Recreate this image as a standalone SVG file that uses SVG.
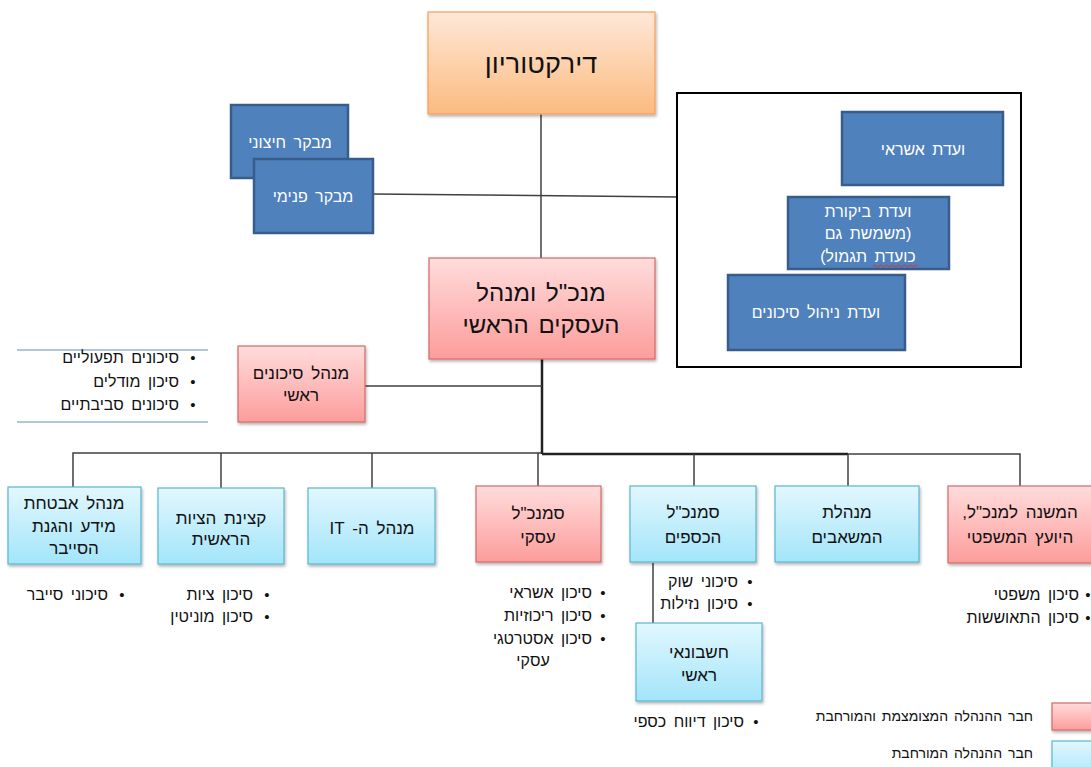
<svg xmlns="http://www.w3.org/2000/svg" width="1091" height="767" viewBox="0 0 1091 767">
<defs>
<linearGradient id="gPink" x1="0" y1="0" x2="0" y2="1"><stop offset="0" stop-color="#ffdcdc"/><stop offset="1" stop-color="#fc9d9b"/></linearGradient>
<linearGradient id="gBlue" x1="0" y1="0" x2="0" y2="1"><stop offset="0" stop-color="#e2f7fe"/><stop offset="1" stop-color="#a3e5fa"/></linearGradient>
<linearGradient id="gOrange" x1="0" y1="0" x2="0" y2="1"><stop offset="0" stop-color="#fee8d8"/><stop offset="1" stop-color="#fbbb80"/></linearGradient>
<filter id="sh" x="-10%" y="-10%" width="125%" height="130%"><feDropShadow dx="1" dy="2" stdDeviation="1.5" flood-color="#000" flood-opacity="0.3"/></filter>
</defs>
<style>
text{font-family:"Liberation Sans","DejaVu Sans",sans-serif;direction:rtl;word-spacing:3px;}
.pink{fill:url(#gPink);stroke:#d26a68;stroke-width:1.2;filter:url(#sh);}
.lblue{fill:url(#gBlue);stroke:#5ab6d0;stroke-width:1.2;filter:url(#sh);}
.orange{fill:url(#gOrange);stroke:#f5a05a;stroke-width:1.2;filter:url(#sh);}
.dblue{fill:#4f81bd;stroke:#385d8a;stroke-width:2.5;}
.t{font-size:17px;fill:#111;text-anchor:middle;}
.tw{font-size:16px;fill:#fff;text-anchor:middle;}
.b{font-size:16px;fill:#111;text-anchor:start;}
.dot{font-size:15px;fill:#111;text-anchor:middle;}
.c{stroke:#404040;stroke-width:1.5;fill:none;}
.ck{stroke:#222;stroke-width:2.5;fill:none;}
</style>
<g id="connectors">
<line class="c" x1="541" y1="114" x2="541" y2="258"/>
<line class="c" x1="373" y1="194" x2="678" y2="197"/>
<line class="ck" x1="542" y1="359" x2="542" y2="454"/>
<line class="c" x1="365" y1="386" x2="542" y2="386"/>
<polyline class="c" points="73,487 73,453 541,453"/>
<line class="c" x1="221" y1="453" x2="221" y2="488"/>
<line class="c" x1="372" y1="453" x2="372" y2="488"/>
<line class="c" x1="538" y1="453" x2="538" y2="486"/>
<line class="ck" x1="542" y1="454" x2="848" y2="454"/>
<line class="c" x1="694" y1="454" x2="694" y2="486"/>
<line class="c" x1="848" y1="454" x2="848" y2="486"/>
<polyline class="c" points="848,454 1020,454 1020,486" stroke="#555"/>
<line class="c" x1="653" y1="563" x2="653" y2="623"/>
</g>
<g id="board"><rect class="orange" x="428" y="12" width="227" height="102"/><text x="541" y="73" class="t" style="font-size:27px">דירקטוריון</text></g>
<g id="committees"><rect x="677" y="93" width="344" height="274" fill="none" stroke="#000" stroke-width="2"/></g>
<g id="ext-auditor"><rect class="dblue" x="231" y="105" width="117" height="73"/><text x="290" y="148" class="tw">מבקר חיצוני</text></g>
<g id="int-auditor"><rect class="dblue" x="254" y="159" width="119" height="74"/><text x="313" y="202" class="tw">מבקר פנימי</text></g>
<g id="credit-comm"><rect class="dblue" x="842" y="112" width="161" height="73"/><text x="923" y="155" class="tw">ועדת אשראי</text></g>
<g id="audit-comm"><rect class="dblue" x="788" y="197" width="161" height="72"/>
<text x="868" y="217" class="tw">ועדת ביקורת</text><text x="868" y="239" class="tw">(משמשת גם</text><text x="868" y="262" class="tw">כועדת תגמול)</text>
<path d="M873,266 q1.5,-2 3,0 t3,0 t3,0 t3,0 t3,0 t3,0 t3,0 t3,0 t3,0 t3,0 t3,0 t3,0 t3,0 t3,0 t3,0" stroke="#e03030" stroke-width="1" fill="none"/></g>
<g id="risk-comm"><rect class="dblue" x="728" y="275" width="177" height="75"/><text x="816" y="318" class="tw">ועדת ניהול סיכונים</text></g>
<g id="ceo"><rect class="pink" x="429" y="258" width="226" height="101"/><text x="541" y="301" class="t" style="font-size:24px">מנכ"ל ומנהל</text><text x="541" y="333" class="t" style="font-size:24px">העסקים הראשי</text></g>
<g id="cro"><rect class="pink" x="238" y="346" width="127" height="76"/><text x="301" y="379" class="t">מנהל סיכונים</text><text x="301" y="401" class="t">ראשי</text></g>
<g id="cro-list">
<line x1="17" y1="350" x2="208" y2="350" stroke="#5b8fc9" stroke-width="1"/>
<line x1="17" y1="422" x2="208" y2="422" stroke="#5b8fc9" stroke-width="1"/>
<text x="193" y="363" class="dot">•</text><text x="179" y="363" class="b">סיכונים תפעוליים</text>
<text x="193" y="387" class="dot">•</text><text x="179" y="387" class="b">סיכון מודלים</text>
<text x="193" y="410" class="dot">•</text><text x="179" y="410" class="b">סיכונים סביבתיים</text>
</g>
<g id="ciso"><rect class="lblue" x="8" y="487" width="133" height="77"/><text x="74" y="509" class="t">מנהל אבטחת</text><text x="74" y="532" class="t">מידע והגנת</text><text x="74" y="554" class="t">הסייבר</text>
<text x="122" y="600" class="dot">•</text><text x="108" y="600" class="b">סיכוני סייבר</text></g>
<g id="compliance"><rect class="lblue" x="158" y="488" width="126" height="76"/><text x="221" y="524" class="t">קצינת הציות</text><text x="221" y="545" class="t">הראשית</text>
<text x="267" y="600" class="dot">•</text><text x="253" y="600" class="b">סיכון ציות</text>
<text x="267" y="622" class="dot">•</text><text x="253" y="622" class="b">סיכון מוניטין</text></g>
<g id="it"><rect class="lblue" x="308" y="488" width="127" height="76"/><text x="372" y="534" class="t">מנהל ה- IT</text></g>
<g id="biz-vp"><rect class="pink" x="476" y="486" width="125" height="76"/><text x="538" y="519" class="t">סמנכ"ל</text><text x="538" y="543" class="t">עסקי</text>
<text x="603" y="598" class="dot">•</text><text x="592" y="598" class="b">סיכון אשראי</text>
<text x="603" y="621" class="dot">•</text><text x="592" y="621" class="b">סיכון ריכוזיות</text>
<text x="603" y="644" class="dot">•</text><text x="592" y="644" class="b">סיכון אסטרטגי</text>
<text x="533" y="666" class="t" style="font-size:16px">עסקי</text></g>
<g id="cfo"><rect class="lblue" x="630" y="486" width="126" height="76"/><text x="693" y="518" class="t">סמנכ"ל</text><text x="693" y="543" class="t">הכספים</text>
<text x="750" y="587" class="dot">•</text><text x="738" y="587" class="b">סיכוני שוק</text>
<text x="750" y="609" class="dot">•</text><text x="738" y="609" class="b">סיכון נזילות</text></g>
<g id="hr"><rect class="lblue" x="775" y="486" width="144" height="76"/><text x="847" y="518" class="t">מנהלת</text><text x="847" y="543" class="t">המשאבים</text></g>
<g id="legal"><rect class="pink" x="948" y="486" width="150" height="77"/><text x="1020" y="518" class="t">המשנה למנכ"ל,</text><text x="1020" y="543" class="t">היועץ המשפטי</text>
<text x="1088" y="600" class="dot">•</text><text x="1079" y="600" class="b">סיכון משפטי</text>
<text x="1088" y="623" class="dot">•</text><text x="1079" y="623" class="b">סיכון התאוששות</text></g>
<g id="chief-accountant"><rect class="lblue" x="636" y="623" width="126" height="78"/><text x="699" y="658" class="t">חשבונאי</text><text x="699" y="681" class="t">ראשי</text>
<text x="756" y="727" class="dot">•</text><text x="744" y="727" class="b">סיכון דיווח כספי</text></g>
<g id="legend">
<rect class="pink" x="1052" y="703" width="50" height="27"/><text x="1033" y="721" class="b" style="font-size:14px;word-spacing:2px">חבר ההנהלה המצומצמת והמורחבת</text>
<rect class="lblue" x="1052" y="741" width="50" height="40"/><text x="1033" y="758" class="b" style="font-size:14px;word-spacing:2px">חבר ההנהלה המורחבת</text>
</g>
</svg>
